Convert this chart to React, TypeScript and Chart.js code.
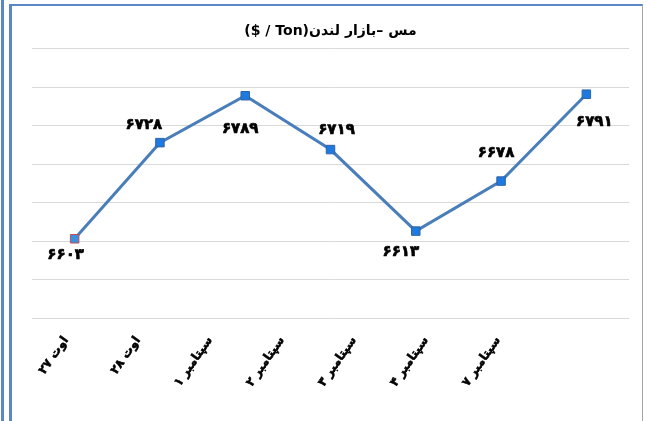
import React, { useEffect, useRef } from "react";
import { Chart, registerables } from "chart.js";

Chart.register(...registerables);

const titleText = "مس –بازار لندن(Ton / $)";
const categories = ["اوت ۲۷", "اوت ۲۸", "سپتامبر ۱", "سپتامبر ۲", "سپتامبر ۳", "سپتامبر ۴", "سپتامبر ۷"];
const copperPrices = [6603, 6728, 6789, 6719, 6613, 6678, 6791];
const yMin = 6500;
const yMax = 6850;
const yStep = 50;

// label offsets (dx, dy) relative to each point, in pixels
const labelOffsets: [number, number][] = [
  [-9, 16],
  [-16, -18],
  [-5, 33],
  [6, -19],
  [-15, 21],
  [-5, -28],
  [8, 28],
];

// the category labels sit on their own (slightly compressed) axis, as in the original
const labelAxisMin = -0.472;
const labelAxisMax = 7.819;

const toFa = (n: number) => String(n).replace(/\d/g, (d) => "۰۱۲۳۴۵۶۷۸۹"[Number(d)]);

const FONT = '"DejaVu Sans", "Noto Sans", sans-serif';

const dataLabelPlugin = {
  id: "dataLabelPlugin",
  afterDatasetsDraw(chart: any) {
    const ctx = chart.ctx;
    const meta = chart.getDatasetMeta(0);
    ctx.save();
    ctx.font = `bold 15px ${FONT}`;
    ctx.fillStyle = "#000000";
    ctx.strokeStyle = "#000000";
    ctx.lineWidth = 0.7;
    ctx.lineJoin = "round";
    ctx.textAlign = "center";
    ctx.textBaseline = "middle";
    meta.data.forEach((el: any, i: number) => {
      const [dx, dy] = labelOffsets[i];
      const t = toFa(copperPrices[i]);
      ctx.strokeText(t, el.x + dx, el.y + dy);
      ctx.fillText(t, el.x + dx, el.y + dy);
    });
    ctx.restore();
  },
};

export default function App() {
  const ref = useRef<HTMLCanvasElement>(null);

  useEffect(() => {
    document.body.style.margin = "0";
    const canvas = ref.current!;
    const pointBorders = copperPrices.map((_, i) => (i === 0 ? "#c0504d" : "#2f63a8"));
    const pointFills = copperPrices.map((_, i) => (i === 0 ? "#3d8fe0" : "#1f7ae0"));
    const chart = new Chart(canvas, {
      type: "line",
      data: {
        labels: categories,
        datasets: [
          {
            data: copperPrices,
            xAxisID: "x",
            yAxisID: "y",
            borderColor: "#4a7ebb",
            borderWidth: 3,
            pointStyle: "rect",
            pointRadius: 6,
            pointHoverRadius: 6,
            pointBorderWidth: 1,
            pointBorderColor: pointBorders,
            pointBackgroundColor: pointFills,
            tension: 0,
            fill: false,
          },
        ],
      },
      options: {
        responsive: false,
        animation: false,
        layout: { padding: { left: 20, right: 14, top: 0, bottom: 0 } },
        plugins: {
          legend: { display: false },
          tooltip: { enabled: false },
          title: {
            display: true,
            text: titleText,
            color: "#000000",
            font: { family: FONT, size: 14, weight: "bold", lineHeight: 1.2 },
            padding: { top: 16, bottom: 9 },
          },
        },
        scales: {
          x: {
            type: "category",
            offset: true,
            display: false,
          },
          xLabels: {
            type: "linear",
            position: "bottom",
            min: labelAxisMin,
            max: labelAxisMax,
            grid: { display: false, drawTicks: false },
            border: { display: false },
            ticks: {
              stepSize: 1,
              includeBounds: false,
              autoSkip: false,
              color: "#000000",
              textStrokeColor: "#000000",
              textStrokeWidth: 0.6,
              font: { family: FONT, size: 12, weight: "bold" },
              minRotation: 55,
              maxRotation: 55,
              padding: 16,
              callback: (value: any) =>
                Number.isInteger(value) && categories[value] !== undefined ? categories[value] : "",
            },
            afterFit: (scale: any) => {
              scale.height = 103;
            },
          },
          y: {
            min: yMin,
            max: yMax,
            grid: { color: "#d9d9d9", lineWidth: 1, drawTicks: false },
            border: { display: false },
            ticks: { display: false, stepSize: yStep },
          },
        },
      },
      plugins: [dataLabelPlugin],
    });
    return () => chart.destroy();
  }, []);

  return (
    <div style={{ position: "fixed", left: 0, top: 0, width: 647, height: 421, background: "#ffffff", overflow: "hidden" }}>
      <div style={{ position: "absolute", left: 1, top: 0, width: 3, height: 421, background: "#5a87c6" }} />
      <div
        style={{
          position: "absolute",
          left: 9,
          top: 4,
          width: 634,
          height: 430,
          borderLeft: "3px solid #5a87c6",
          borderTop: "2px solid #5a87c6",
          borderRight: "1px solid #a6a6a6",
          boxSizing: "border-box",
        }}
      />
      <canvas
        ref={ref}
        dir="rtl"
        width={631}
        height={414}
        style={{ position: "absolute", left: 12, top: 7, width: 631, height: 414 }}
      />
    </div>
  );
}
